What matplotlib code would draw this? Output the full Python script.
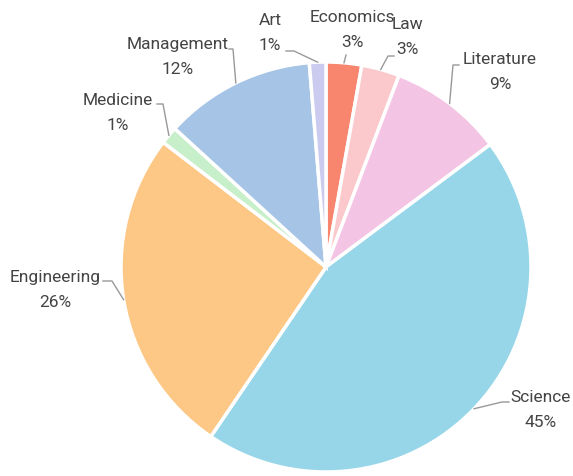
import matplotlib.pyplot as plt
import numpy as np

labels = ["Economics", "Law", "Literature", "Science", "Engineering",
          "Medicine", "Management", "Art"]
values = [2.8, 3.0, 9.0, 44.7, 25.9, 1.4, 11.9, 1.3]
colors = ["#f8866f", "#fbc9cb", "#f4c4e4", "#96d6e8", "#fdc886",
          "#c6efca", "#a6c4e6", "#cbcbef"]

# label layout in pixels: text centre, elbow point, end of short tail
layout = {
    "Economics": ((352, 30), (346, 56), (346, 56)),
    "Law": ((407, 37), (388, 57), (394, 57)),
    "Literature": ((500, 72), (453, 66), (459, 66)),
    "Science": ((541, 410), (502, 403), (509, 403)),
    "Engineering": ((55, 290), (112, 282), (103, 282)),
    "Medicine": ((118, 113), (163, 105), (157, 105)),
    "Management": ((178, 57), (233, 50), (229, 50)),
    "Art": ((270, 33), (294, 52), (286, 52)),
}

W, H = 573, 477
CX, CY, R = 326, 268, 205


def to_data(p):
    return (p[0] - CX) / R, (CY - p[1]) / R


plt.rcParams["font.family"] = ["Roboto", "DejaVu Sans"]
fig = plt.figure(figsize=(W / 100, H / 100), dpi=100)
ax = fig.add_axes([(CX - R) / W, (H - CY - R) / H, 2 * R / W, 2 * R / H])

wedges, _ = ax.pie(values, colors=colors, startangle=90, counterclock=False,
                   radius=1, wedgeprops=dict(edgecolor="white", linewidth=2.5))
ax.set_xlim(-1, 1)
ax.set_ylim(-1, 1)
ax.set_aspect("equal")
ax.axis("off")

total = sum(values)
for w, name, v in zip(wedges, labels, values):
    mid = np.deg2rad((w.theta1 + w.theta2) / 2)
    edge = (np.cos(mid), np.sin(mid))
    txt, elbow, tail = layout[name]
    e = to_data(elbow)
    t = to_data(tail)
    ax.plot([edge[0], e[0], t[0]], [edge[1], e[1], t[1]], color="#999999",
            lw=1, clip_on=False)
    tx, ty = to_data(txt)
    ax.text(tx, ty, f"{name}\n{round(v / total * 100)}%", ha="center",
            va="center", fontsize=12.5, color="#444444", linespacing=1.8)

plt.savefig("out.png", dpi=100)
plt.close()
